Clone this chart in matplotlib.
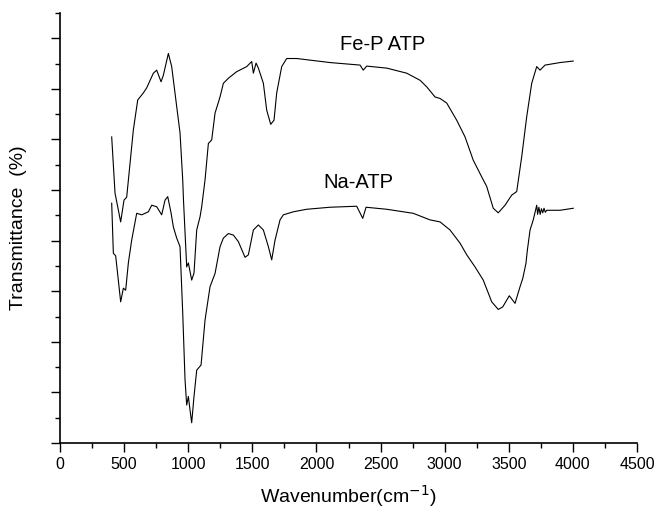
import matplotlib
matplotlib.use('Agg')
import matplotlib.pyplot as plt
from matplotlib.ticker import MultipleLocator

# wavenumber (cm-1) and transmittance (arbitrary, offset)
fep_wn = [403, 429, 473, 499, 520, 572, 606, 650, 676, 728, 754, 788, 806, 845, 871, 910,
          936, 957, 963, 988, 1001, 1027, 1045, 1066, 1092, 1105, 1131, 1157, 1183, 1209,
          1248, 1274, 1313, 1378, 1456, 1495, 1508, 1529, 1547, 1586, 1612, 1643, 1669,
          1690, 1729, 1768, 1846, 1976, 2106, 2340, 2365, 2392, 2548, 2704, 2808, 2860,
          2925, 2964, 3016, 3094, 3159, 3223, 3289, 3328, 3379, 3418, 3471, 3523, 3562,
          3601, 3640, 3679, 3718, 3744, 3783, 3900, 4003]
fep_t = [6.05, 4.94, 4.37, 4.80, 4.86, 6.19, 6.78, 6.92, 7.02, 7.31, 7.37, 7.14, 7.27, 7.70,
         7.44, 6.65, 6.13, 5.20, 4.80, 3.48, 3.56, 3.22, 3.36, 4.21, 4.47, 4.67, 5.20, 5.92,
         5.99, 6.52, 6.84, 7.11, 7.21, 7.34, 7.44, 7.54, 7.31, 7.51, 7.41, 7.11, 6.58, 6.30,
         6.38, 6.92, 7.44, 7.60, 7.60, 7.56, 7.52, 7.47, 7.37, 7.45, 7.41, 7.31, 7.17, 7.04,
         6.84, 6.81, 6.72, 6.38, 6.05, 5.59, 5.26, 5.07, 4.64, 4.55, 4.70, 4.90, 4.97, 5.66,
         6.45, 7.11, 7.44, 7.37, 7.47, 7.52, 7.55]

na_wn = [403, 416, 434, 473, 494, 512, 533, 559, 598, 637, 689, 715, 754, 793, 819, 840, 866,
         884, 910, 936, 957, 975, 988, 1001, 1014, 1027, 1045, 1066, 1100, 1131, 1170, 1209,
         1248, 1274, 1313, 1352, 1391, 1443, 1469, 1508, 1547, 1586, 1625, 1651, 1677, 1716,
         1742, 1820, 1924, 2106, 2314, 2361, 2387, 2548, 2755, 2886, 2964, 3042, 3120, 3172,
         3237, 3301, 3367, 3418, 3453, 3504, 3549, 3588, 3609, 3634, 3645, 3666, 3691, 3718,
         3725, 3735, 3745, 3755, 3765, 3775, 3785, 3796, 3900, 4003]
na_t = [4.74, 3.75, 3.70, 2.79, 3.06, 3.02, 3.56, 4.01, 4.54, 4.51, 4.57, 4.70, 4.67, 4.51,
        4.80, 4.87, 4.55, 4.27, 4.05, 3.88, 2.57, 1.25, 0.75, 0.92, 0.65, 0.40, 0.92, 1.44,
        1.54, 2.43, 3.09, 3.35, 3.88, 4.05, 4.14, 4.11, 3.98, 3.67, 3.72, 4.21, 4.31, 4.21,
        3.88, 3.62, 4.01, 4.41, 4.51, 4.57, 4.62, 4.66, 4.68, 4.44, 4.66, 4.62, 4.54, 4.41,
        4.37, 4.21, 3.95, 3.72, 3.48, 3.22, 2.79, 2.64, 2.69, 2.91, 2.76, 3.09, 3.25, 3.55,
        3.81, 4.21, 4.41, 4.70, 4.52, 4.66, 4.52, 4.63, 4.55, 4.64, 4.56, 4.60, 4.60, 4.64]

plt.rcParams['font.family'] = ['Liberation Sans', 'DejaVu Sans']

fig = plt.figure(figsize=(6.56, 5.11), dpi=100)
ax = fig.add_axes([0.0915, 0.1331, 0.8795, 0.8415])

ax.plot(fep_wn, fep_t, color='black', linewidth=0.8)
ax.plot(na_wn, na_t, color='black', linewidth=0.8)

ax.text(2520, 7.87, 'Fe-P ATP', fontsize=14.5, ha='center', va='center')
ax.text(2330, 5.14, 'Na-ATP', fontsize=14.5, ha='center', va='center')

ax.set_xlim(0, 4500)
ax.set_ylim(0, 8.5)
ax.xaxis.set_major_locator(MultipleLocator(500))
ax.xaxis.set_minor_locator(MultipleLocator(250))
ax.yaxis.set_major_locator(MultipleLocator(1))
ax.yaxis.set_minor_locator(MultipleLocator(0.5))
ax.tick_params(which='major', direction='out', length=6.5, width=1, labelsize=11.5)
ax.tick_params(which='minor', direction='out', length=3.5, width=1)
ax.tick_params(axis='y', labelleft=False)

ax.spines['top'].set_visible(False)
ax.spines['right'].set_visible(False)
for s in ('left', 'bottom'):
    ax.spines[s].set_linewidth(1.2)

ax.set_xlabel('Wavenumber(cm$^{-1}$)', fontsize=14, labelpad=8)
ax.set_ylabel('Transmittance  (%)', fontsize=14)
ax.yaxis.set_label_coords(-0.057, 0.5)

fig.savefig('out.png', dpi=100)
